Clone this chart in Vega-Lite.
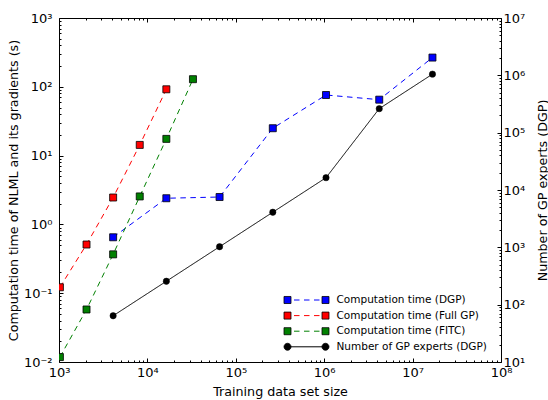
{
  "$schema": "https://vega.github.io/schema/vega-lite/v6.json",
  "width": 442,
  "height": 344,
  "autosize": {"type": "none"},
  "padding": {"left": 59, "top": 18, "right": 47, "bottom": 38},
  "datasets": {
    "d": [
      {"size": 4096, "value": 0.65, "series": "Computation time (DGP)"},
      {"size": 16384, "value": 2.4, "series": "Computation time (DGP)"},
      {"size": 65536, "value": 2.5, "series": "Computation time (DGP)"},
      {"size": 262144, "value": 25, "series": "Computation time (DGP)"},
      {"size": 1048576, "value": 76, "series": "Computation time (DGP)"},
      {"size": 4194304, "value": 65, "series": "Computation time (DGP)"},
      {"size": 16777216, "value": 266, "series": "Computation time (DGP)"},
      {"size": 1024, "value": 0.122, "series": "Computation time (Full GP)"},
      {"size": 2048, "value": 0.51, "series": "Computation time (Full GP)"},
      {"size": 4096, "value": 2.46, "series": "Computation time (Full GP)"},
      {"size": 8192, "value": 14.3, "series": "Computation time (Full GP)"},
      {"size": 16384, "value": 92, "series": "Computation time (Full GP)"},
      {"size": 1024, "value": 0.0118, "series": "Computation time (FITC)"},
      {"size": 2048, "value": 0.058, "series": "Computation time (FITC)"},
      {"size": 4096, "value": 0.367, "series": "Computation time (FITC)"},
      {"size": 8192, "value": 2.55, "series": "Computation time (FITC)"},
      {"size": 16384, "value": 17.5, "series": "Computation time (FITC)"},
      {"size": 32768, "value": 129, "series": "Computation time (FITC)"},
      {"size": 4096, "value": 64, "series": "Number of GP experts (DGP)"},
      {"size": 16384, "value": 256, "series": "Number of GP experts (DGP)"},
      {"size": 65536, "value": 1024, "series": "Number of GP experts (DGP)"},
      {"size": 262144, "value": 4096, "series": "Number of GP experts (DGP)"},
      {"size": 1048576, "value": 16384, "series": "Number of GP experts (DGP)"},
      {"size": 4194304, "value": 262144, "series": "Number of GP experts (DGP)"},
      {"size": 16777216, "value": 1048576, "series": "Number of GP experts (DGP)"}
    ]
  },
  "data": {"name": "d"},
  "resolve": {
    "scale": {"y": "independent"},
    "axis": {"x": "independent", "y": "independent"}
  },
  "layer": [
    {
      "transform": [{"filter": "datum.series !== 'Number of GP experts (DGP)'"}],
      "mark": {"type": "line", "strokeWidth": 1, "clip": true},
      "encoding": {
        "x": {
          "field": "size", "type": "quantitative",
          "scale": {"type": "log", "domain": [1000, 100000000], "nice": false},
          "axis": {
            "orient": "bottom",
            "values": [1000, 10000, 100000, 1000000, 10000000, 100000000],
            "labelExpr": "'10' + ['⁻²','⁻¹','⁰','¹','²','³','⁴','⁵','⁶','⁷','⁸'][round(log(datum.value)/LN10)+2]",
            "tickSize": -4,
            "labelPadding": 8,
            "title": "Training data set size",
            "titleX": 221, "titleY": 29, "titleBaseline": "middle", "titleAlign": "center"
          }
        },
        "y": {
          "field": "value", "type": "quantitative",
          "scale": {"type": "log", "domain": [0.01, 1000], "nice": false},
          "axis": {
            "orient": "left",
            "values": [0.01, 0.1, 1, 10, 100, 1000],
            "labelExpr": "'10' + ['⁻²','⁻¹','⁰','¹','²','³','⁴','⁵','⁶','⁷','⁸'][round(log(datum.value)/LN10)+2]",
            "tickSize": -4,
            "labelPadding": 11,
            "title": "Computation time of NLML and its gradients (s)",
            "titleX": -46, "titleY": 172, "titleAngle": 270, "titleBaseline": "middle", "titleAlign": "center"
          }
        },
        "stroke": {
          "field": "series", "type": "nominal",
          "scale": {
            "domain": ["Number of GP experts (DGP)", "Computation time (DGP)", "Computation time (Full GP)", "Computation time (FITC)"],
            "range": ["#000000", "#0000ff", "#ff0000", "#008000"]
          },
          "legend": {
            "orient": "none", "legendX": 241.5, "legendY": 276, "direction": "vertical", "title": null, "padding": 0,
            "values": ["Computation time (DGP)", "Computation time (Full GP)", "Computation time (FITC)", "Number of GP experts (DGP)"],
            "symbolType": "M-4.09,0L4.09,0", "symbolSize": 121, "symbolOffset": 0, "symbolStrokeWidth": 1,
            "labelOffset": 24, "rowPadding": 3.6, "labelFontSize": 10.5, "labelLimit": 0
          }
        },
        "strokeDash": {
          "field": "series", "type": "nominal",
          "scale": {
            "domain": ["Number of GP experts (DGP)", "Computation time (DGP)", "Computation time (Full GP)", "Computation time (FITC)"],
            "range": [[1, 0], [5.5, 4.5], [5.5, 4.5], [5.5, 4.5]]
          },
          "legend": {
            "orient": "none", "legendX": 241.5, "legendY": 276, "direction": "vertical", "title": null, "padding": 0,
            "values": ["Computation time (DGP)", "Computation time (Full GP)", "Computation time (FITC)", "Number of GP experts (DGP)"],
            "symbolType": "M-4.09,0L4.09,0", "symbolSize": 121, "symbolOffset": 0, "symbolStrokeWidth": 1,
            "labelOffset": 24, "rowPadding": 3.6, "labelFontSize": 10.5, "labelLimit": 0
          }
        }
      }
    },
    {
      "transform": [{"filter": "datum.series !== 'Number of GP experts (DGP)'"}],
      "mark": {"type": "square", "size": 49, "filled": true, "opacity": 1, "stroke": "black", "strokeWidth": 0.8, "clip": true},
      "encoding": {
        "x": {
          "field": "size", "type": "quantitative",
          "scale": {"type": "log", "domain": [1000, 100000000], "nice": false},
          "axis": {
            "orient": "bottom",
            "values": [2000,3000,4000,5000,6000,7000,8000,9000,20000,30000,40000,50000,60000,70000,80000,90000,200000,300000,400000,500000,600000,700000,800000,900000,2000000,3000000,4000000,5000000,6000000,7000000,8000000,9000000,20000000,30000000,40000000,50000000,60000000,70000000,80000000,90000000],
            "labels": false, "tickSize": -2, "title": null
          }
        },
        "y": {
          "field": "value", "type": "quantitative",
          "scale": {"type": "log", "domain": [0.01, 1000], "nice": false},
          "axis": {
            "orient": "left",
            "values": [0.02,0.03,0.04,0.05,0.06,0.07,0.08,0.09,0.2,0.3,0.4,0.5,0.6,0.7,0.8,0.9,2,3,4,5,6,7,8,9,20,30,40,50,60,70,80,90,200,300,400,500,600,700,800,900],
            "labels": false, "tickSize": -2, "title": null
          }
        },
        "fill": {
          "field": "series", "type": "nominal",
          "scale": {
            "domain": ["Computation time (DGP)", "Computation time (Full GP)", "Computation time (FITC)", "Number of GP experts (DGP)"],
            "range": ["#0000ff", "#ff0000", "#008000", "#000000"]
          },
          "legend": {
            "orient": "none", "legendX": 241.5, "legendY": 276, "direction": "vertical", "title": null, "padding": 0,
            "values": ["Computation time (DGP)", "Computation time (Full GP)", "Computation time (FITC)", "Number of GP experts (DGP)"],
            "symbolType": "M-4.09,-0.64L-2.82,-0.64L-2.82,0.64L-4.09,0.64Z M2.82,-0.64L4.09,-0.64L4.09,0.64L2.82,0.64Z",
            "symbolSize": 121, "symbolOffset": 0, "symbolStrokeColor": "black", "symbolStrokeWidth": 0.8, "symbolOpacity": 1,
            "labelExpr": "''", "labelOffset": 24, "rowPadding": 3.6, "labelFontSize": 10.5,
            "encode": {
              "symbols": {
                "update": {
                  "shape": {"signal": "datum.value === 'Number of GP experts (DGP)' ? 'M-4.09,0A0.64,0.64 0 1 1 -2.81,0A0.64,0.64 0 1 1 -4.09,0Z M2.81,0A0.64,0.64 0 1 1 4.09,0A0.64,0.64 0 1 1 2.81,0Z' : 'M-4.09,-0.64L-2.82,-0.64L-2.82,0.64L-4.09,0.64Z M2.82,-0.64L4.09,-0.64L4.09,0.64L2.82,0.64Z'"}
                }
              }
            }
          }
        }
      }
    },
    {
      "transform": [{"filter": "datum.series === 'Number of GP experts (DGP)'"}],
      "mark": {"type": "line", "strokeWidth": 1, "clip": true},
      "encoding": {
        "x": {
          "field": "size", "type": "quantitative",
          "scale": {"type": "log", "domain": [1000, 100000000], "nice": false},
          "axis": {
            "orient": "top",
            "values": [1000, 10000, 100000, 1000000, 10000000, 100000000],
            "labels": false, "tickSize": -4, "title": null
          }
        },
        "y": {
          "field": "value", "type": "quantitative",
          "scale": {"type": "log", "domain": [10, 10000000], "nice": false},
          "axis": {
            "orient": "right",
            "values": [10, 100, 1000, 10000, 100000, 1000000, 10000000],
            "labelExpr": "'10' + ['⁻²','⁻¹','⁰','¹','²','³','⁴','⁵','⁶','⁷','⁸'][round(log(datum.value)/LN10)+2]",
            "tickSize": -4,
            "labelPadding": 6,
            "title": "Number of GP experts (DGP)",
            "titleX": 41, "titleY": 172, "titleAngle": 270, "titleBaseline": "middle", "titleAlign": "center"
          }
        },
        "stroke": {
          "field": "series", "type": "nominal",
          "scale": {
            "domain": ["Number of GP experts (DGP)", "Computation time (DGP)", "Computation time (Full GP)", "Computation time (FITC)"],
            "range": ["#000000", "#0000ff", "#ff0000", "#008000"]
          },
          "legend": {
            "orient": "none", "legendX": 241.5, "legendY": 276, "direction": "vertical", "title": null, "padding": 0,
            "values": ["Computation time (DGP)", "Computation time (Full GP)", "Computation time (FITC)", "Number of GP experts (DGP)"],
            "symbolType": "M-4.09,0L4.09,0", "symbolSize": 121, "symbolOffset": 0, "symbolStrokeWidth": 1,
            "labelOffset": 24, "rowPadding": 3.6, "labelFontSize": 10.5, "labelLimit": 0
          }
        },
        "strokeDash": {
          "field": "series", "type": "nominal",
          "scale": {
            "domain": ["Number of GP experts (DGP)", "Computation time (DGP)", "Computation time (Full GP)", "Computation time (FITC)"],
            "range": [[1, 0], [5.5, 4.5], [5.5, 4.5], [5.5, 4.5]]
          },
          "legend": {
            "orient": "none", "legendX": 241.5, "legendY": 276, "direction": "vertical", "title": null, "padding": 0,
            "values": ["Computation time (DGP)", "Computation time (Full GP)", "Computation time (FITC)", "Number of GP experts (DGP)"],
            "symbolType": "M-4.09,0L4.09,0", "symbolSize": 121, "symbolOffset": 0, "symbolStrokeWidth": 1,
            "labelOffset": 24, "rowPadding": 3.6, "labelFontSize": 10.5, "labelLimit": 0
          }
        }
      }
    },
    {
      "transform": [{"filter": "datum.series === 'Number of GP experts (DGP)'"}],
      "mark": {"type": "circle", "size": 40, "opacity": 1, "stroke": "black", "strokeWidth": 0.5, "clip": true},
      "encoding": {
        "x": {
          "field": "size", "type": "quantitative",
          "scale": {"type": "log", "domain": [1000, 100000000], "nice": false},
          "axis": {
            "orient": "top",
            "values": [2000,3000,4000,5000,6000,7000,8000,9000,20000,30000,40000,50000,60000,70000,80000,90000,200000,300000,400000,500000,600000,700000,800000,900000,2000000,3000000,4000000,5000000,6000000,7000000,8000000,9000000,20000000,30000000,40000000,50000000,60000000,70000000,80000000,90000000],
            "labels": false, "tickSize": -2, "title": null
          }
        },
        "y": {
          "field": "value", "type": "quantitative",
          "scale": {"type": "log", "domain": [10, 10000000], "nice": false},
          "axis": {
            "orient": "right",
            "values": [20,30,40,50,60,70,80,90,200,300,400,500,600,700,800,900,2000,3000,4000,5000,6000,7000,8000,9000,20000,30000,40000,50000,60000,70000,80000,90000,200000,300000,400000,500000,600000,700000,800000,900000,2000000,3000000,4000000,5000000,6000000,7000000,8000000,9000000],
            "labels": false, "tickSize": -2, "title": null
          }
        },
        "fill": {
          "field": "series", "type": "nominal",
          "scale": {
            "domain": ["Computation time (DGP)", "Computation time (Full GP)", "Computation time (FITC)", "Number of GP experts (DGP)"],
            "range": ["#0000ff", "#ff0000", "#008000", "#000000"]
          },
          "legend": {
            "orient": "none", "legendX": 241.5, "legendY": 276, "direction": "vertical", "title": null, "padding": 0,
            "values": ["Computation time (DGP)", "Computation time (Full GP)", "Computation time (FITC)", "Number of GP experts (DGP)"],
            "symbolType": "M-4.09,-0.64L-2.82,-0.64L-2.82,0.64L-4.09,0.64Z M2.82,-0.64L4.09,-0.64L4.09,0.64L2.82,0.64Z",
            "symbolSize": 121, "symbolOffset": 0, "symbolStrokeColor": "black", "symbolStrokeWidth": 0.8, "symbolOpacity": 1,
            "labelExpr": "''", "labelOffset": 24, "rowPadding": 3.6, "labelFontSize": 10.5,
            "encode": {
              "symbols": {
                "update": {
                  "shape": {"signal": "datum.value === 'Number of GP experts (DGP)' ? 'M-4.09,0A0.64,0.64 0 1 1 -2.81,0A0.64,0.64 0 1 1 -4.09,0Z M2.81,0A0.64,0.64 0 1 1 4.09,0A0.64,0.64 0 1 1 2.81,0Z' : 'M-4.09,-0.64L-2.82,-0.64L-2.82,0.64L-4.09,0.64Z M2.82,-0.64L4.09,-0.64L4.09,0.64L2.82,0.64Z'"}
                }
              }
            }
          }
        }
      }
    }
  ],
  "config": {
    "view": {"stroke": "black", "strokeWidth": 1},
    "axis": {
      "domain": false, "grid": false, "ticks": true, "tickColor": "black", "tickWidth": 1,
      "labelFont": "DejaVu Sans", "labelFontSize": 13, "labelColor": "black",
      "labelFlush": false, "labelOverlap": false,
      "titleFont": "DejaVu Sans", "titleFontSize": 12.7, "titleFontWeight": "normal", "titleColor": "black"
    },
    "legend": {"labelFont": "DejaVu Sans", "labelFontSize": 10.5, "labelColor": "black"}
  }
}
